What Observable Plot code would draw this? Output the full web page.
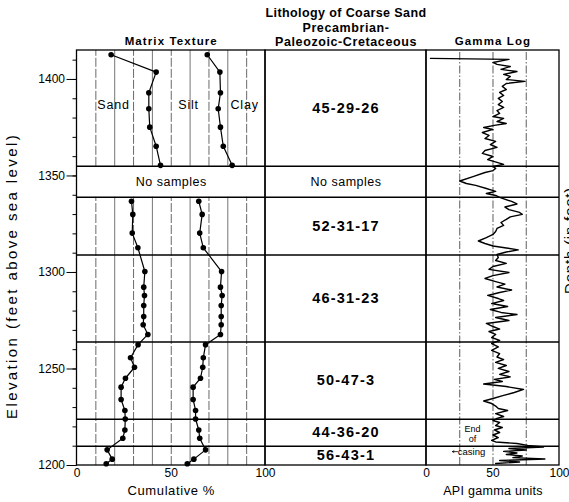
<!DOCTYPE html>
<html><head><meta charset="utf-8">
<script src="https://cdn.jsdelivr.net/npm/d3@7"></script>
<script src="https://cdn.jsdelivr.net/npm/@observablehq/plot@0.6"></script>
<style>
html,body{margin:0;padding:0;background:#fff;overflow:hidden;}
#chart{width:569px;height:502px;}
</style></head><body><div id="chart"></div>
<script>
// ---------------- DATA ----------------
// Matrix texture samples (elevation in feet, cumulative %)
const sampleElev = [1412.8,1403.8,1393.1,1384.8,1375.3,1365.4,1355.5,
  1336.9,1330.1,1320.4,1312.8,1300.5,1292.4,1288.1,1282.9,1277.2,1272.9,1267.9,
  1262.6,1255.8,1250.9,1245.2,1240.6,1234.2,1228.5,1224.1,1218.4,1214.1,1208.1,1203.3,1200.9];
const sandPct = [18.1,42.0,38.1,38.1,38.6,42.0,44.3,
  28.9,29.6,29.3,32.3,36.0,35.4,35.8,35.4,35.4,35.1,37.6,
  32.4,28.4,30.5,25.7,23.4,23.4,25.4,25.6,25.4,24.3,16.0,18.7,15.5];
const siltPct = [69.1,75.8,76.1,74.9,76.1,77.6,82.3,
  64.6,66.4,65.1,67.0,76.7,76.1,77.0,76.5,76.5,76.5,76.1,
  68.2,67.0,66.7,65.5,61.6,61.6,62.9,62.9,64.6,65.1,68.2,62.0,58.5];

// Gamma log (elevation, API gamma units)
const gammaElev = [1410.9,1410.4,1408.8,1407.8,1406.7,1405.2,1404.1,1402.6,1401.6,1400.0,1399.0,1397.9,1396.4,1394.8,1393.3,1391.7,1390.2,1388.6,1387.0,1385.5,1383.9,1382.4,1380.8,1379.8,1378.2,1377.2,1376.2,1375.1,1374.1,1372.5,1371.0,1369.4,1367.9,1366.3,1364.8,1363.2,1361.7,1360.1,1358.5,1357.0,1356.0,1354.9,1353.9,
  1352.8,1351.8,1349.7,1347.4,1346.1,1345.1,1343.5,1342.7,1342.0,1340.9,1339.9,1338.9,
  1336.8,1335.5,1333.9,1332.6,1331.1,1330.1,1328.8,1327.5,1325.9,1324.4,1322.8,1321.2,1319.7,1318.1,1316.3,1315.0,1313.7,1312.7,1311.7,1310.6,1309.3,
  1307.8,1306.2,1304.7,1303.1,1301.6,1300.0,1298.4,1296.9,1295.3,1294.0,1292.5,1290.9,1289.6,1288.1,1286.5,1285.5,1283.9,1282.4,1280.8,1279.3,1278.2,1276.7,1275.1,1273.6,1272.0,1270.7,1269.4,1267.9,1266.3,1264.8,
  1263.2,1261.4,1259.6,1258.0,1256.2,1254.9,1253.4,1251.8,1250.3,1248.7,1247.2,1245.9,1244.6,1243.5,1242.2,1240.9,1239.4,1237.8,1236.3,1234.7,1233.4,1232.1,1230.8,1229.5,1228.5,1226.9,1225.4,1224.4,
  1223.3,1222.3,1220.7,1219.7,1218.4,1217.1,1215.8,1214.5,1213.0,1212.2,1211.4,1210.4,
  1209.6,1208.8,1208.0,1207.3,1206.5,1205.7,1204.9,1204.1,1203.4,1202.6,1201.8,1201.0];
const gammaApi = [3,62,50,53,63,56,68,58,63,60,74,60,57,60,55,58,54,57,54,58,53,55,50,58,53,60,51,43,50,42,47,44,52,48,53,44,42,50,46,53,58,50,52,
  50,44,35,25,30,37,45,49,52,45,52,55,
  64,68,59,62,70,72,63,60,56,58,53,52,50,45,39,44,50,60,69,60,53,
  54,52,60,50,47,62,50,44,52,59,53,64,55,46,54,58,49,61,48,56,68,52,62,45,50,55,47,52,49,55,
  49,54,49,55,53,58,52,60,54,62,55,63,51,57,43,60,73,66,58,50,43,49,52,54,61,52,58,53,
  50,55,52,57,51,55,50,54,49,52,68,76,
  88,62,75,58,68,60,72,65,89,55,70,52];

// Lithologic units
const unitLabels = ["45-29-26","No samples","52-31-17","46-31-23","50-47-3","44-36-20","56-43-1"];
const unitTops    = [1415,1355,1339,1309,1264,1224,1210];
const unitBottoms = [1355,1339,1309,1264,1224,1210,1200];
const gapTop = 1355, gapBottom = 1339;

// Ticks
const elevMajor = [1200,1250,1300,1350,1400];
const elevMinor = [1200,1210,1220,1230,1240,1250,1260,1270,1280,1290,1300,1310,1320,1330,1340,1350,1360,1370,1380,1390,1400,1410];
const textureTicks = [0,50,100];
const textureGrid = [10,20,30,40,50,60,70,80,90];
const gammaTicks = [0,50,100];
const gammaGrid = [25,50,75];

// ---------------- LAYOUT ----------------
const W = 569, H = 502, ML = 76.5, MR = 10, MT = 50, MB = 37;
const MID_END = 185.4;      // end of lithology column (texture % units)
const GF = 0.7056;          // gamma unit -> texture % unit
const gx = v => MID_END + v * GF;
const XMAX = gx(100);
const MID_C = (100 + MID_END) / 2;
const FONT = "'Liberation Sans', Arial, Helvetica, sans-serif";

const samples = sampleElev.map((e, i) => ({elev: e, sand: sandPct[i], silt: siltPct[i],
  seg: e > (gapTop + gapBottom) / 2 ? "upper" : "lower"}));
const gamma = gammaElev.map((e, i) => ({elev: e, api: gammaApi[i]}));
const units = unitLabels.map((label, i) => ({label, mid: (unitTops[i] + unitBottoms[i]) / 2}));
const boundaries = unitTops.slice(1);
const gridData = textureGrid.flatMap(p => [[1200, gapBottom], [gapTop, 1415]].map(([a, b]) => ({p, a, b})));
const panels = [{x1: 0, x2: 100}, {x1: 100, x2: MID_END}, {x1: MID_END, x2: XMAX}];
const noSamp = units.find(d => d.label === "No samples");

const headText = (txt, x, dy, size) => Plot.text([txt], {x, frameAnchor: "top", dy, lineAnchor: "middle", textAnchor: "middle", fontWeight: "bold", fontSize: size});

const chart = Plot.plot({
  width: W, height: H,
  marginLeft: ML, marginRight: MR, marginTop: MT, marginBottom: MB,
  x: {domain: [0, XMAX], axis: null},
  y: {domain: [1200, 1415], axis: null},
  style: {fontFamily: FONT, fontSize: "12px", background: "white", color: "black"},
  marks: [
    Plot.ruleX(gridData.filter(d => d.p % 20 === 10), {x: "p", y1: "a", y2: "b", stroke: "#444", strokeWidth: 0.8, strokeDasharray: "9,2"}),
    Plot.ruleX(gridData.filter(d => d.p % 20 === 0), {x: "p", y1: "a", y2: "b", stroke: "#666", strokeWidth: 0.9}),
    Plot.ruleX(gammaGrid, {x: d => gx(d), y1: 1200, y2: 1415, stroke: "#333", strokeWidth: 0.8, strokeDasharray: "8,2,1.5,2"}),
    Plot.ruleY(boundaries, {x1: 0, x2: XMAX, stroke: "black", strokeWidth: 1.5}),
    Plot.rect(panels, {x1: "x1", x2: "x2", y1: 1200, y2: 1415, fill: "none", stroke: "black", strokeWidth: 1.3}),
    Plot.line(samples, {x: "sand", y: "elev", z: "seg", stroke: "black", strokeWidth: 1.2}),
    Plot.line(samples, {x: "silt", y: "elev", z: "seg", stroke: "black", strokeWidth: 1.2}),
    Plot.dot(samples, {x: "sand", y: "elev", r: 2.8, fill: "black"}),
    Plot.dot(samples, {x: "silt", y: "elev", r: 2.8, fill: "black"}),
    Plot.line(gamma, {x: d => gx(d.api), y: "elev", stroke: "black", strokeWidth: 1.4}),
    // unit labels
    Plot.text(units.filter(d => d.label !== "No samples"), {x: MID_C, y: "mid", text: "label", fontWeight: "bold", fontSize: 14.5}),
    Plot.text([noSamp], {x: MID_C, y: "mid", text: "label", fontSize: 12.5}),
    Plot.text([noSamp], {x: 50, y: "mid", text: "label", fontSize: 12.5}),
    // texture labels
    Plot.text(["Sand"], {x: 19.4, y: 1387, fontSize: 12.5}),
    Plot.text(["Silt"], {x: 59.2, y: 1387, fontSize: 12.5}),
    Plot.text(["Clay"], {x: 88.9, y: 1387, fontSize: 12.5}),
    // end of casing
    Plot.text(["End"], {x: gx(34.6), y: 1218.7, fontSize: 9}),
    Plot.text(["of"], {x: gx(34.6), y: 1213.9, fontSize: 9}),
    Plot.text(["casing"], {x: gx(23.5), y: 1207.2, fontSize: 9.5, textAnchor: "start"}),
    Plot.arrow([{a: 23.3, b: 19.5, e: 1207.2}], {x1: d => gx(d.a), x2: d => gx(d.b), y1: "e", y2: "e", headLength: 4, strokeWidth: 0.8}),
    // titles
    headText("Lithology of Coarse Sand", MID_C, -38, 12.5),
    headText("Precambrian-", MID_C, -23, 12.5),
    headText("Paleozoic-Cretaceous", MID_C, -9, 12.5),
    headText("Matrix Texture", 50, -9, 11.5),
    headText("Gamma Log", gx(50), -9, 11.5),
    // axis titles
    Plot.text(["Elevation (feet above sea level)"], {frameAnchor: "left", y: 1298.2, dx: -64.5, rotate: -90, textAnchor: "middle", lineAnchor: "middle", fontSize: 15}),
    Plot.text(["Depth (in feet)"], {frameAnchor: "right", y: 1316.6, dx: 11, rotate: -90, textAnchor: "middle", lineAnchor: "middle", fontSize: 15}),
    Plot.text(["Cumulative %"], {x: 50, frameAnchor: "bottom", dy: 25, lineAnchor: "middle", fontSize: 13}),
    Plot.text(["API gamma units"], {x: gx(50), frameAnchor: "bottom", dy: 25, lineAnchor: "middle", fontSize: 12.5}),
    // axes
    Plot.axisY({ticks: elevMinor, tickSize: 4, tickFormat: () => "", label: null}),
    Plot.axisY({ticks: elevMajor, tickSize: 10, tickPadding: 2, label: null, fontSize: 12, tickFormat: d => String(d)}),
    Plot.axisX({ticks: textureTicks, tickSize: 0, tickPadding: 3, label: null, fontSize: 12, tickFormat: d => String(d)}),
    Plot.axisX({ticks: gammaTicks.map(gx), tickSize: 0, tickPadding: 3, label: null, fontSize: 12,
      tickFormat: d => String(Math.round((d - MID_END) / GF))})
  ]
});

// letter spacing to mimic the original typesetting
const spacing = new Map([
  ["Lithology of Coarse Sand", 0.4], ["Precambrian-", 0.6], ["Paleozoic-Cretaceous", 0.6],
  ["Matrix Texture", 1.1], ["Gamma Log", 1.1],
  ["Elevation (feet above sea level)", 2.4], ["Depth (in feet)", 0.8],
  ["Cumulative %", 0.6], ["API gamma units", 0.3],
  ["Sand", 0.8], ["Silt", 0.8], ["Clay", 0.8], ["No samples", 0.5]
]);
unitLabels.forEach(l => { if (!spacing.has(l)) spacing.set(l, 1.2); });
chart.querySelectorAll("text").forEach(t => {
  const s = spacing.get(t.textContent);
  if (s) t.setAttribute("letter-spacing", s);
});
document.getElementById("chart").appendChild(chart);
</script>
</body></html>
